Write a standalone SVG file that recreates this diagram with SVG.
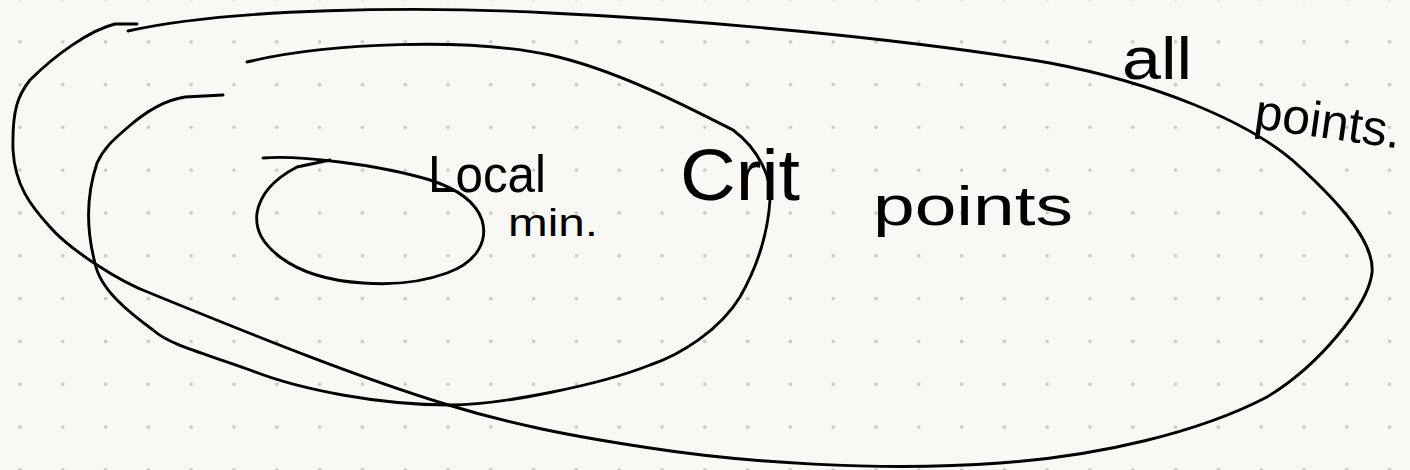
<svg xmlns="http://www.w3.org/2000/svg" width="1410" height="470" viewBox="0 0 1410 470">
  <defs>
    <pattern id="dots" x="-1.4" y="-22.4" width="42.8" height="42.8" patternUnits="userSpaceOnUse">
      <circle cx="21.4" cy="21.4" r="1.8" fill="#c8c6c2"/>
    </pattern>
    <style>
      .ink { fill: none; stroke: #000; stroke-width: 2.9; stroke-linecap: round; stroke-linejoin: round; }
      .hand { font-family: "Liberation Sans", "DejaVu Sans", sans-serif; fill: #000; }
    </style>
  </defs>
  <rect x="0" y="0" width="1410" height="470" fill="#faf8f4"/>
  <rect x="0" y="0" width="1410" height="470" fill="url(#dots)"/>

  <g id="all-points">
    <path class="ink" d="M128,31 C230,8 420,6 550,13 C700,20 900,38 1050,63 C1150,82 1250,120 1300,167 C1345,208 1375,245 1372,273 C1368,305 1320,365 1267,397 C1200,432 1100,456 1000,463 C880,472 740,462 650,448 C570,436 510,424 445,404 C360,378 260,338 150,293 C120,282 70,250 50,227 C30,205 15,185 13,150 C12,110 18,95 30,80 C55,55 90,30 115,24 L137,24"/>
    <text class="hand" x="1122" y="79" font-size="60" textLength="70" lengthAdjust="spacingAndGlyphs">all</text>
    <text class="hand" x="1253" y="128" font-size="50" textLength="147" lengthAdjust="spacingAndGlyphs" transform="rotate(8 1253 128)">points.</text>
  </g>

  <g id="crit-points">
    <path class="ink" d="M247,62 C330,42 470,38 550,55 C617,70 690,108 733,130 C760,150 772,180 770,200 C768,230 760,262 740,297 C720,330 680,355 650,365 C600,385 500,405 450,405 C380,405 300,390 250,370 C200,352 170,345 153,330 C130,313 100,290 95,263 C85,225 88,190 97,163 C104,148 113,140 127,128 C145,112 165,100 185,97 L223,95"/>
    <text class="hand" x="680" y="200" font-size="72" textLength="120" lengthAdjust="spacingAndGlyphs">Crit</text>
    <text class="hand" x="873" y="225" font-size="56" textLength="200" lengthAdjust="spacingAndGlyphs">points</text>
  </g>

  <g id="local-min">
    <path class="ink" d="M263,158 C300,155 380,165 430,180 C455,188 475,200 482,220 C488,240 478,262 447,273 C420,283 390,285 363,283 C330,281 300,272 280,257 C262,243 255,230 257,213 C260,195 272,180 297,167 L330,160"/>
    <text class="hand" x="428" y="192" font-size="52" textLength="118" lengthAdjust="spacingAndGlyphs">Local</text>
    <text class="hand" x="508" y="236" font-size="38" textLength="90" lengthAdjust="spacingAndGlyphs">min.</text>
  </g>

  <g id="connectors"/>
</svg>
